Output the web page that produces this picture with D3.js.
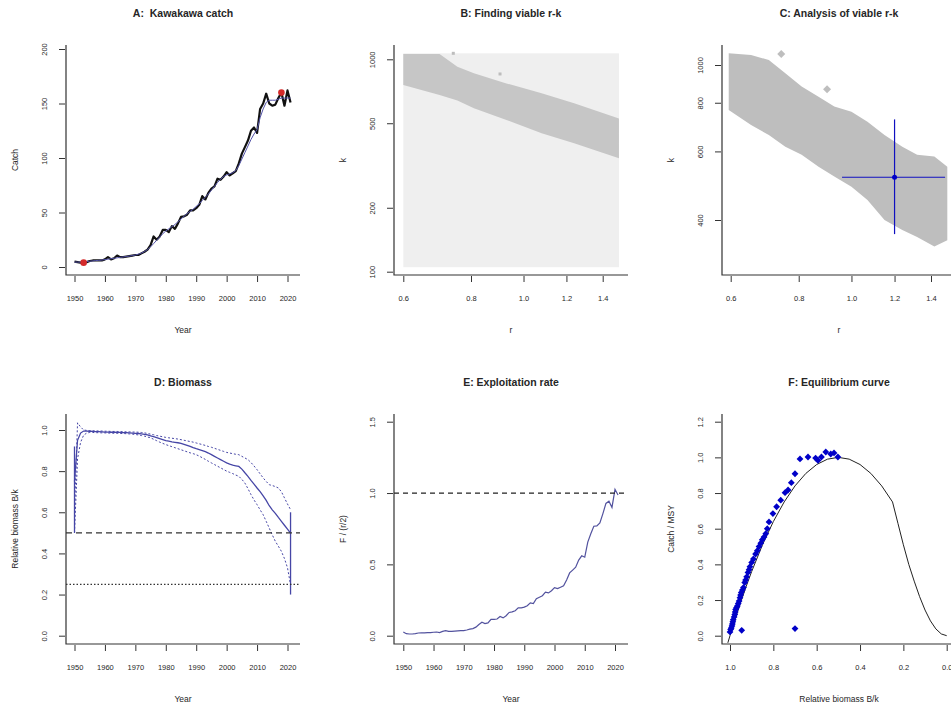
<!DOCTYPE html>
<html>
<head>
<meta charset="utf-8">
<script src="https://cdn.jsdelivr.net/npm/d3@7"></script>
<style>
  body { margin: 0; background: #fff; }
  svg { font-family: "Liberation Sans", Arial, sans-serif; }
</style>
</head>
<body>
<script>
// years of the catch series
var years = d3.range(1950, 2022);

// A: catch (black) and smoothed catch (blue)
var catchA = [5, 4.5, 4, 4, 4.5, 5.5, 6, 6, 6, 6,
  7, 9, 7, 8, 10.5, 9, 9, 9.5, 10, 10.5,
  11, 11, 12.5, 14, 16, 20, 28, 25, 28, 34,
  34, 32, 37.5, 35, 40, 46, 46.5, 48, 52, 52,
  54, 57, 65, 62, 68, 72, 74, 81, 80, 83,
  87, 84, 86, 88, 95, 104, 110, 116, 125, 128,
  123, 145, 150, 159, 150, 148, 149, 155, 160, 148,
  162, 151];
var smoothA = [4.5, 4.5, 4.5, 4.7, 5, 5.3, 5.6, 5.9, 6.1, 6.4,
  6.8, 7.2, 7.6, 8, 8.4, 8.8, 9.2, 9.6, 10, 10.5,
  11, 11.8, 12.8, 14.2, 16, 18.5, 21.5, 24.5, 27.5, 30.5,
  33, 35, 37, 39, 41.5, 44, 46.5, 49, 51, 53,
  55.5, 58, 61, 64, 67, 70.5, 74, 77.5, 80.5, 83,
  84.5, 85.5, 86.5, 88.5, 93, 99, 105, 111, 117, 122,
  126, 137, 145, 151, 153, 153, 153, 154, 155, 155,
  155, 155];
var redYears = [1953, 2018];
var redCatch = [4, 160];

// B: prior r-k range and viable band
var priorR = [0.6, 1.5];
var priorK = [105, 1067];
var bandR   = [0.6, 0.70, 0.755, 0.81, 0.93, 1.08, 1.24, 1.5];
var bandKHi = [1060, 1060, 923, 860, 770, 692, 621, 527];
var bandKLo = [757, 679, 640, 588, 518, 449, 402, 342];
var outR_B = [0.742, 0.905];
var outK_B = [1067, 853];

// C: viable r-k cloud and best estimate
var cR   = [0.595, 0.654, 0.705, 0.756, 0.81, 0.87, 0.93, 1.0, 1.07, 1.15, 1.24, 1.32, 1.42, 1.50];
var cKHi = [1072, 1061, 1030, 952, 880, 829, 782, 759, 715, 661, 617, 588, 582, 548];
var cKLo = [766, 701, 661, 617, 588, 548, 517, 487, 450, 400, 377, 362, 342, 355];
var outR_C = [0.743, 0.902];
var outK_C = [1067, 866];
var bestR = [0.961, 1.2, 1.486];
var bestK = [368, 515, 725];

// D: relative biomass B/k
var medD = [0.75, 0.95, 0.985, 0.995, 0.995, 0.994, 0.993, 0.992, 0.992, 0.991,
  0.99, 0.99, 0.989, 0.989, 0.988, 0.988, 0.987, 0.987, 0.986, 0.985,
  0.984, 0.983, 0.981, 0.979, 0.976, 0.972, 0.968, 0.963, 0.958, 0.953,
  0.948, 0.946, 0.942, 0.94, 0.938, 0.935, 0.93, 0.925, 0.92, 0.914,
  0.909, 0.905, 0.9, 0.895, 0.888, 0.88, 0.872, 0.864, 0.856, 0.848,
  0.84, 0.834, 0.829, 0.826, 0.823, 0.81, 0.792, 0.775, 0.755, 0.737,
  0.718, 0.7, 0.68, 0.658, 0.632, 0.612, 0.595, 0.575, 0.556, 0.537,
  0.518, 0.499];
var upD = [0.60, 1.035, 1.015, 1.0, 0.998, 0.997, 0.996, 0.996, 0.995, 0.995,
  0.994, 0.994, 0.993, 0.993, 0.993, 0.992, 0.992, 0.991, 0.991, 0.990,
  0.990, 0.989, 0.988, 0.986, 0.983, 0.980, 0.977, 0.973, 0.970, 0.967,
  0.964, 0.962, 0.960, 0.958, 0.956, 0.953, 0.950, 0.947, 0.944, 0.941,
  0.937, 0.933, 0.929, 0.925, 0.920, 0.916, 0.911, 0.906, 0.901, 0.896,
  0.891, 0.888, 0.885, 0.882, 0.880, 0.872, 0.864, 0.856, 0.842, 0.825,
  0.807, 0.787, 0.767, 0.750, 0.734, 0.730, 0.725, 0.718, 0.700, 0.670,
  0.640, 0.613];
var loD = [0.50, 0.86, 0.94, 0.975, 0.985, 0.988, 0.988, 0.987, 0.987, 0.986,
  0.986, 0.985, 0.985, 0.984, 0.984, 0.983, 0.983, 0.982, 0.981, 0.980,
  0.978, 0.976, 0.973, 0.970, 0.966, 0.962, 0.955, 0.948, 0.941, 0.935,
  0.929, 0.924, 0.919, 0.914, 0.909, 0.904, 0.899, 0.894, 0.889, 0.885,
  0.880, 0.873, 0.865, 0.857, 0.848, 0.840, 0.832, 0.824, 0.816, 0.808,
  0.800, 0.794, 0.788, 0.781, 0.775, 0.760, 0.742, 0.715, 0.686, 0.660,
  0.637, 0.612, 0.588, 0.556, 0.523, 0.490, 0.459, 0.435, 0.410, 0.375,
  0.330, 0.248];
var barYears = [1950, 2021];
var barLo = [0.5, 0.2];
var barHi = [0.92, 0.6];
var refD = [0.5, 0.25];

// E: exploitation rate F/(r/2)
var fE = [0.026, 0.014, 0.012, 0.012, 0.015, 0.019, 0.02, 0.02, 0.021, 0.022,
  0.024, 0.026, 0.022, 0.03, 0.035, 0.03, 0.03, 0.032, 0.034, 0.035,
  0.035, 0.04, 0.046, 0.05, 0.06, 0.078, 0.094, 0.085, 0.09, 0.115,
  0.115, 0.117, 0.135, 0.125, 0.14, 0.163, 0.167, 0.175, 0.195, 0.195,
  0.2, 0.21, 0.23, 0.225, 0.26, 0.27, 0.28, 0.305, 0.3, 0.315,
  0.337, 0.33, 0.34, 0.35, 0.39, 0.44, 0.46, 0.48, 0.53, 0.56,
  0.55, 0.656, 0.715, 0.767, 0.77, 0.79, 0.856, 0.927, 0.943, 0.899,
  1.026, 0.986];

// F: equilibrium curve and observed points
var curveBk = [1.01, 1.0, 0.975, 0.95, 0.925, 0.9, 0.85, 0.8, 0.75, 0.7, 0.65, 0.6, 0.55, 0.5, 0.45, 0.4, 0.35, 0.3, 0.25,
  0.225, 0.2, 0.175, 0.15, 0.125, 0.1, 0.075, 0.05, 0.025, 0.0];
var curveY = [-0.04, 0, 0.0975, 0.19, 0.2775, 0.36, 0.51, 0.64, 0.75, 0.84, 0.91, 0.96, 0.99, 1.0, 0.99, 0.96, 0.91, 0.84, 0.75,
  0.63, 0.51, 0.40, 0.306, 0.219, 0.144, 0.083, 0.038, 0.0098, 0];
var ptBk = [1.0, 0.997, 0.994, 0.991, 0.989, 0.987, 0.985, 0.981, 0.978, 0.976, 0.974, 0.970, 0.966, 0.962, 0.958, 0.954,
  0.951, 0.948, 0.943, 0.938, 0.932, 0.928, 0.923, 0.917, 0.912, 0.908, 0.900, 0.892, 0.882, 0.874, 0.866, 0.858,
  0.851, 0.843, 0.835, 0.828, 0.82, 0.802, 0.785, 0.766, 0.746, 0.732, 0.717, 0.7, 0.677, 0.64, 0.605, 0.594,
  0.578, 0.558, 0.535, 0.52, 0.502, 0.946, 0.7];
var ptCatch = [0.021, 0.035, 0.043, 0.055, 0.066, 0.078, 0.09, 0.105, 0.119, 0.133, 0.147, 0.157, 0.166, 0.18, 0.194, 0.213,
  0.228, 0.242, 0.256, 0.27, 0.298, 0.312, 0.33, 0.355, 0.37, 0.387, 0.411, 0.43, 0.458, 0.477, 0.5, 0.519,
  0.538, 0.553, 0.572, 0.6, 0.638, 0.685, 0.723, 0.76, 0.802, 0.817, 0.858, 0.908, 0.991, 1.002, 0.996, 0.983,
  1.002, 1.03, 1.019, 1.025, 1.002, 0.03, 0.04];

var svg = d3.select("body").append("svg")
    .attr("width", 951)
    .attr("height", 707);

var txt = "#262626";
var navy = "#4646a6";

function diamond(h) {
  return "M0," + (-h) + "L" + h + ",0L0," + h + "L" + (-h) + ",0Z";
}

function panel(p) {
  var x0 = p.frame[0], x1 = p.frame[1], y0 = p.frame[2], y1 = p.frame[3];
  var g = svg.append("g");

  svg.append("clipPath").attr("id", p.id)
    .append("rect").attr("x", x0).attr("y", y0).attr("width", x1 - x0).attr("height", y1 - y0);
  var inner = g.append("g").attr("clip-path", "url(#" + p.id + ")");

  // L-shaped box
  g.append("path")
    .attr("d", "M" + x0 + "," + y0 + "V" + y1 + "H" + x1)
    .attr("fill", "none").attr("stroke", "#333").attr("stroke-width", 1.2);

  var gx = g.append("g").attr("transform", "translate(0," + (y1 + 1) + ")")
    .call(d3.axisBottom(p.x).tickValues(p.xticks).tickSize(6).tickFormat(p.xfmt));
  gx.select(".domain").remove();
  gx.selectAll("line").attr("stroke", "#333");
  gx.selectAll("text").attr("y", 22).attr("dy", "0.35em")
    .attr("fill", txt).style("font-size", "7.5px");

  var gy = g.append("g").attr("transform", "translate(" + (x0 - 1) + ",0)")
    .call(d3.axisLeft(p.y).tickValues(p.yticks).tickSize(6).tickFormat(p.yfmt));
  gy.select(".domain").remove();
  gy.selectAll("line").attr("stroke", "#333");
  gy.selectAll("text").attr("x", 0).attr("y", -18).attr("dy", 0)
    .attr("transform", "rotate(-90)")
    .style("text-anchor", "middle").attr("fill", txt).style("font-size", "7.5px");

  g.append("text").attr("x", (x0 + x1) / 2).attr("y", y0 - 28)
    .attr("text-anchor", "middle").attr("fill", txt)
    .style("white-space", "pre")
    .style("font-size", "10.5px").style("font-weight", "bold").text(p.title);
  g.append("text").attr("x", (x0 + x1) / 2).attr("y", y1 + 58)
    .attr("text-anchor", "middle").attr("fill", txt)
    .style("font-size", "8.5px").text(p.xlab);
  g.append("text").attr("transform", "translate(" + (x0 - 48) + "," + ((y0 + y1) / 2) + ") rotate(-90)")
    .attr("text-anchor", "middle").attr("fill", txt)
    .style("font-size", "8.5px").text(p.ylab);

  return inner;
}

var yearTicks = [1950, 1960, 1970, 1980, 1990, 2000, 2010, 2020];
var rTicks = [0.6, 0.8, 1.0, 1.2, 1.4];
var f1 = d3.format(".1f");
var fint = d3.format("d");

// ---------- A ----------
var xA = d3.scaleLinear().domain([1950, 2020]).range([74.5, 287.5]);
var yA = d3.scaleLinear().domain([0, 200]).range([267, 49]);
var gA = panel({id: "cA", frame: [66, 300, 45, 275], x: xA, y: yA,
  xticks: yearTicks, yticks: [0, 50, 100, 150, 200], xfmt: fint, yfmt: fint,
  title: "A:  Kawakawa catch", xlab: "Year", ylab: "Catch"});

gA.append("path").datum(catchA)
  .attr("d", d3.line().x(function(d, i) { return xA(years[i]); }).y(function(d) { return yA(d); }))
  .attr("fill", "none").attr("stroke", "#111").attr("stroke-width", 2.2).attr("stroke-linejoin", "round");
gA.append("path").datum(smoothA)
  .attr("d", d3.line().x(function(d, i) { return xA(years[i]); }).y(function(d) { return yA(d); }))
  .attr("fill", "none").attr("stroke", "#5252a8").attr("stroke-width", 1);
gA.selectAll(".red").data(redYears).enter().append("circle")
  .attr("cx", function(d) { return xA(d); })
  .attr("cy", function(d, i) { return yA(redCatch[i]); })
  .attr("r", 3.3).attr("fill", "#d42a2a");

// ---------- B ----------
var xB = d3.scaleLog().domain([0.6, 1.4]).range([403.3, 602.7]);
var yB = d3.scaleLog().domain([100, 1000]).range([271.7, 59.3]);
var gB = panel({id: "cB", frame: [394, 628, 45, 275], x: xB, y: yB,
  xticks: rTicks, yticks: [100, 200, 500, 1000], xfmt: f1, yfmt: fint,
  title: "B: Finding viable r-k", xlab: "r", ylab: "k"});

gB.append("rect")
  .attr("x", xB(priorR[0])).attr("width", xB(priorR[1]) - xB(priorR[0]))
  .attr("y", yB(priorK[1])).attr("height", yB(priorK[0]) - yB(priorK[1]))
  .attr("fill", "#efefef");
gB.append("path").datum(bandR)
  .attr("d", d3.area().x(function(d) { return xB(d); })
    .y0(function(d, i) { return yB(bandKLo[i]); })
    .y1(function(d, i) { return yB(bandKHi[i]); }))
  .attr("fill", "#c6c6c6");
gB.selectAll(".ob").data(outR_B).enter().append("rect")
  .attr("x", function(d) { return xB(d) - 1.5; })
  .attr("y", function(d, i) { return yB(outK_B[i]) - 1.5; })
  .attr("width", 3).attr("height", 3).attr("fill", "#bdbdbd");

// ---------- C ----------
var xC = d3.scaleLog().domain([0.6, 1.4]).range([730.7, 931]);
var yC = d3.scaleLog().domain([400, 1000]).range([220, 65]);
var gC = panel({id: "cC", frame: [722, 956, 45, 275], x: xC, y: yC,
  xticks: rTicks, yticks: [400, 600, 800, 1000], xfmt: f1, yfmt: fint,
  title: "C: Analysis of viable r-k", xlab: "r", ylab: "k"});

gC.append("path").datum(cR)
  .attr("d", d3.area().x(function(d) { return xC(d); })
    .y0(function(d, i) { return yC(cKLo[i]); })
    .y1(function(d, i) { return yC(cKHi[i]); }))
  .attr("fill", "#bebebe");
gC.selectAll(".oc").data(outR_C).enter().append("path")
  .attr("transform", function(d, i) { return "translate(" + xC(d) + "," + yC(outK_C[i]) + ")"; })
  .attr("d", diamond(4)).attr("fill", "#bebebe");
gC.append("line")
  .attr("x1", xC(bestR[0])).attr("x2", xC(bestR[2]))
  .attr("y1", yC(bestK[1])).attr("y2", yC(bestK[1]))
  .attr("stroke", "#1010c0").attr("stroke-width", 1.2);
gC.append("line")
  .attr("x1", xC(bestR[1])).attr("x2", xC(bestR[1]))
  .attr("y1", yC(bestK[0])).attr("y2", yC(bestK[2]))
  .attr("stroke", "#1010c0").attr("stroke-width", 1.2);
gC.append("circle").attr("cx", xC(bestR[1])).attr("cy", yC(bestK[1]))
  .attr("r", 2.5).attr("fill", "#0000c8");

// ---------- D ----------
var xD = d3.scaleLinear().domain([1950, 2020]).range([74.5, 287.5]);
var yD = d3.scaleLinear().domain([0, 1]).range([635.7, 430]);
var gD = panel({id: "cD", frame: [66, 300, 414, 644], x: xD, y: yD,
  xticks: yearTicks, yticks: [0, 0.2, 0.4, 0.6, 0.8, 1.0], xfmt: fint, yfmt: f1,
  title: "D: Biomass", xlab: "Year", ylab: "Relative biomass B/k"});

var lineD = d3.line().x(function(d, i) { return xD(years[i]); }).y(function(d) { return yD(d); });
gD.append("path").datum(upD).attr("d", lineD)
  .attr("fill", "none").attr("stroke", navy).attr("stroke-width", 1).attr("stroke-dasharray", "2,2");
gD.append("path").datum(loD).attr("d", lineD)
  .attr("fill", "none").attr("stroke", navy).attr("stroke-width", 1).attr("stroke-dasharray", "2,2");
gD.append("path").datum(medD).attr("d", lineD)
  .attr("fill", "none").attr("stroke", navy).attr("stroke-width", 1.3);
gD.selectAll(".bar").data(barYears).enter().append("line")
  .attr("x1", function(d) { return xD(d); }).attr("x2", function(d) { return xD(d); })
  .attr("y1", function(d, i) { return yD(barLo[i]); })
  .attr("y2", function(d, i) { return yD(barHi[i]); })
  .attr("stroke", navy).attr("stroke-width", 1.3);
gD.selectAll(".ref").data(refD).enter().append("line")
  .attr("x1", 66).attr("x2", 300)
  .attr("y1", function(d) { return yD(d); }).attr("y2", function(d) { return yD(d); })
  .attr("stroke", "#333").attr("stroke-width", 1.3)
  .attr("stroke-dasharray", function(d, i) { return i === 0 ? "6,4" : "1.5,2"; });

// ---------- E ----------
var xE = d3.scaleLinear().domain([1950, 2020]).range([403.3, 615]);
var yE = d3.scaleLinear().domain([0, 1.5]).range([635.7, 421.7]);
var gE = panel({id: "cE", frame: [394, 628, 414, 644], x: xE, y: yE,
  xticks: yearTicks, yticks: [0, 0.5, 1.0, 1.5], xfmt: fint, yfmt: f1,
  title: "E: Exploitation rate", xlab: "Year", ylab: "F / (r/2)"});

gE.append("path").datum(fE)
  .attr("d", d3.line().x(function(d, i) { return xE(years[i]); }).y(function(d) { return yE(d); }))
  .attr("fill", "none").attr("stroke", "#52529e").attr("stroke-width", 1.2);
gE.append("line").attr("x1", 394).attr("x2", 628)
  .attr("y1", yE(1)).attr("y2", yE(1))
  .attr("stroke", "#222").attr("stroke-width", 1.3).attr("stroke-dasharray", "5,4");

// ---------- F ----------
var xF = d3.scaleLinear().domain([1, 0]).range([730, 946.7]);
var yF = d3.scaleLinear().domain([0, 1.2]).range([635.7, 421.7]);
var gF = panel({id: "cF", frame: [722, 956, 414, 644], x: xF, y: yF,
  xticks: [1.0, 0.8, 0.6, 0.4, 0.2, 0.0], yticks: [0, 0.2, 0.4, 0.6, 0.8, 1.0, 1.2], xfmt: f1, yfmt: f1,
  title: "F: Equilibrium curve", xlab: "Relative biomass B/k", ylab: "Catch / MSY"});

gF.append("path").datum(curveBk)
  .attr("d", d3.line().x(function(d) { return xF(d); }).y(function(d, i) { return yF(curveY[i]); }))
  .attr("fill", "none").attr("stroke", "#222").attr("stroke-width", 1);
gF.selectAll(".pt").data(ptBk).enter().append("path")
  .attr("transform", function(d, i) { return "translate(" + xF(d) + "," + yF(ptCatch[i]) + ")"; })
  .attr("d", diamond(3.4)).attr("fill", "#0000c8");
</script>
</body>
</html>
